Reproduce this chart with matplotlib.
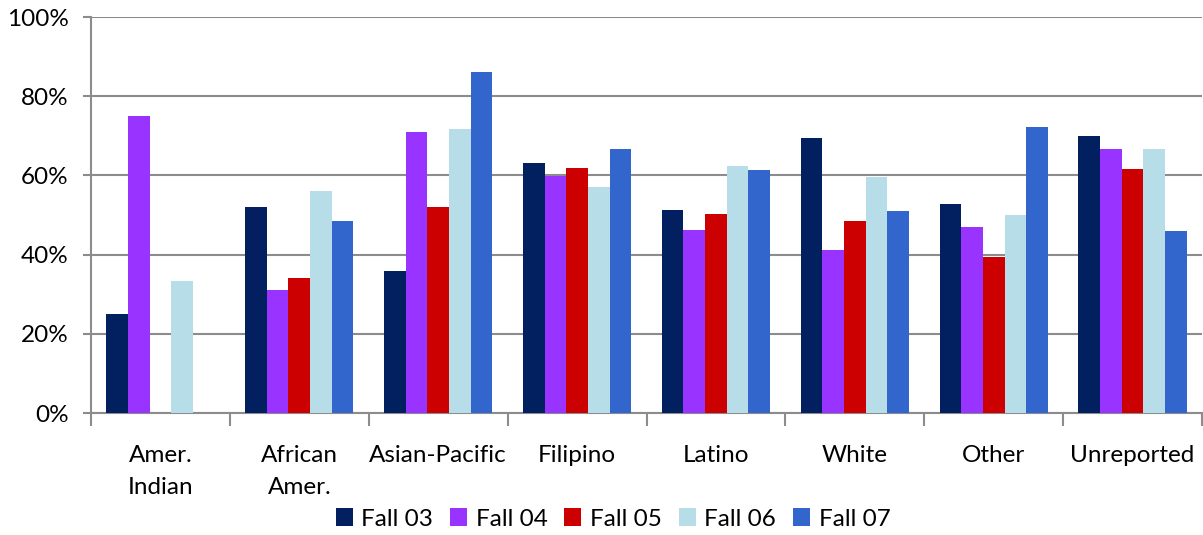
import numpy as np
import matplotlib.pyplot as plt
from matplotlib.ticker import FixedLocator, PercentFormatter

plt.rcParams['font.family'] = ['Lato', 'DejaVu Sans']

categories = ["Amer.\nIndian", "African\nAmer.", "Asian-Pacific", "Filipino",
              "Latino", "White", "Other", "Unreported"]
series = ["Fall 03", "Fall 04", "Fall 05", "Fall 06", "Fall 07"]
fall03 = [25.0, 52.0, 35.8, 63.1, 51.2, 69.4, 52.7, 69.9]
fall04 = [75.0, 31.0, 70.9, 59.8, 46.1, 41.1, 46.9, 66.6]
fall05 = [0.0, 34.1, 51.9, 61.8, 50.2, 48.6, 39.3, 61.6]
fall06 = [33.3, 56.0, 71.6, 57.0, 62.3, 59.7, 49.9, 66.6]
fall07 = [0.0, 48.4, 86.0, 66.6, 61.3, 50.9, 72.2, 45.9]
colors = ["#02205f", "#9933ff", "#cc0000", "#b7dde8", "#3366cc"]

values = [fall03, fall04, fall05, fall06, fall07]

fig = plt.figure(figsize=(12.03, 5.35), dpi=100)
ax = fig.add_axes([91 / 1203, 1 - 413 / 535, 1111 / 1203, 396 / 535])

x = np.arange(len(categories))
w = 0.156
for i, (name, vals, c) in enumerate(zip(series, values, colors)):
    ax.bar(x + (i - 2) * w, vals, width=w, color=c, label=name, zorder=3)

ax.set_xlim(-0.5, len(categories) - 0.5)
ax.set_ylim(0, 100)
ax.yaxis.set_major_locator(FixedLocator([0, 20, 40, 60, 80, 100]))
ax.yaxis.set_major_formatter(PercentFormatter(decimals=0))
ax.grid(axis='y', color='#8c8c8c', linewidth=1.5, zorder=0)

ax.set_xticks(x)
ax.set_xticklabels(categories, fontsize=17.5, linespacing=1.65, va='top')
ax.tick_params(axis='x', which='major', length=0, pad=23)
ax.set_xticks(np.arange(-0.5, len(categories)), minor=True)
ax.tick_params(axis='x', which='minor', length=9, width=1.5, color='#8c8c8c', direction='out')
ax.tick_params(axis='y', labelsize=17.5, length=6, width=1.5, color='#8c8c8c', pad=10)

for s in ['top', 'right']:
    ax.spines[s].set_visible(False)
for s in ['left', 'bottom']:
    ax.spines[s].set_color('#8c8c8c')
    ax.spines[s].set_linewidth(1.5)

fig.legend(loc='center', bbox_to_anchor=(613 / 1203, 1 - 519 / 535), ncol=5,
           frameon=False, fontsize=17.5, handlelength=0.7, handleheight=0.7,
           handletextpad=0.35, columnspacing=0.7, borderpad=0)

fig.savefig("out.png", dpi=100)
